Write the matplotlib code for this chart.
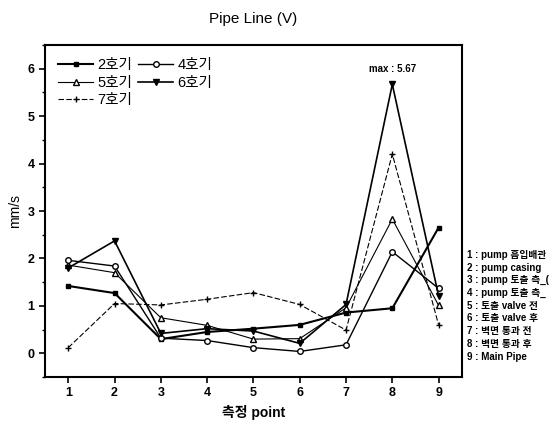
import numpy as np
import matplotlib
matplotlib.use("Agg")
import matplotlib.pyplot as plt

plt.rcParams['font.family'] = ['Liberation Sans', 'Noto Sans CJK KR', 'DejaVu Sans']

points = [1, 2, 3, 4, 5, 6, 7, 8, 9]
unit2 = [1.42, 1.27, 0.30, 0.45, 0.52, 0.60, 0.86, 0.95, 2.65]
unit4 = [1.96, 1.84, 0.32, 0.27, 0.12, 0.04, 0.18, 2.14, 1.37]
unit5 = [1.86, 1.70, 0.75, 0.59, 0.30, 0.31, 0.96, 2.83, 1.01]
unit6 = [1.80, 2.37, 0.42, 0.52, 0.47, 0.21, 1.03, 5.67, 1.21]
unit7 = [0.12, 1.05, 1.02, 1.14, 1.28, 1.03, 0.49, 4.20, 0.60]

# the reference cuts lines 3 and 4 at the right edge
point_names = ["1 : pump 흡입배관", "2 : pump casing", "3 : pump 토출 측_(",
               "4 : pump 토출 측_", "5 : 토출 valve 전", "6 : 토출 valve 후",
               "7 : 벽면 통과 전", "8 : 벽면 통과 후", "9 : Main Pipe"]

fig = plt.figure(figsize=(5.57, 4.28), dpi=100)
ax = fig.add_axes([0.081, 0.119, 0.748, 0.776])

ax.plot(points, unit2, '-s', color='black', lw=1.5, ms=3.5, label='2호기')
ax.plot(points, unit5, '-^', color='black', lw=0.8, ms=4, mfc='white', label='5호기')
ax.plot(points, unit7, linestyle=(0, (5, 2)), marker='+', color='black', lw=0.8, ms=5, label='7호기')
ax.plot(points, unit4, '-o', color='black', lw=1.0, ms=4, mfc='white', label='4호기')
ax.plot(points, unit6, '-v', color='black', lw=1.2, ms=4, label='6호기')

ax.annotate("max : 5.67", xy=(8, 5.67), xytext=(8, 5.88), ha='center', va='bottom',
            fontsize=7, fontweight='bold')

ax.set_xlim(0.5, 9.5)
ax.set_ylim(-0.5, 6.5)
ax.set_xticks(points)
ax.set_yticks(range(0, 7))
ax.set_yticks(np.arange(-0.5, 6.6, 1.0), minor=True)
ax.tick_params(axis='both', direction='out', labelsize=9, width=1.2, length=4)
ax.tick_params(axis='y', which='minor', direction='out', length=2.5, width=1)
for lab in ax.get_xticklabels() + ax.get_yticklabels():
    lab.set_fontweight('bold')
for s in ax.spines.values():
    s.set_linewidth(1.5)

ax.set_title("Pipe Line (V)", fontsize=11, pad=16)
ax.set_ylabel("mm/s", fontsize=10)
ax.set_xlabel("측정 point", fontsize=10, fontweight='bold')

ax.legend(loc='upper left', ncol=2, frameon=False, fontsize=10.5, handlelength=2.4,
          columnspacing=0.4, handletextpad=0.3, labelspacing=0.25,
          bbox_to_anchor=(0.0, 1.0))

for i, name in enumerate(point_names):
    fig.text(0.838, 1 - (255 + i * 12.7) / 428, name, fontsize=7, fontweight='bold', va='center')

fig.savefig("out.png", dpi=100)
